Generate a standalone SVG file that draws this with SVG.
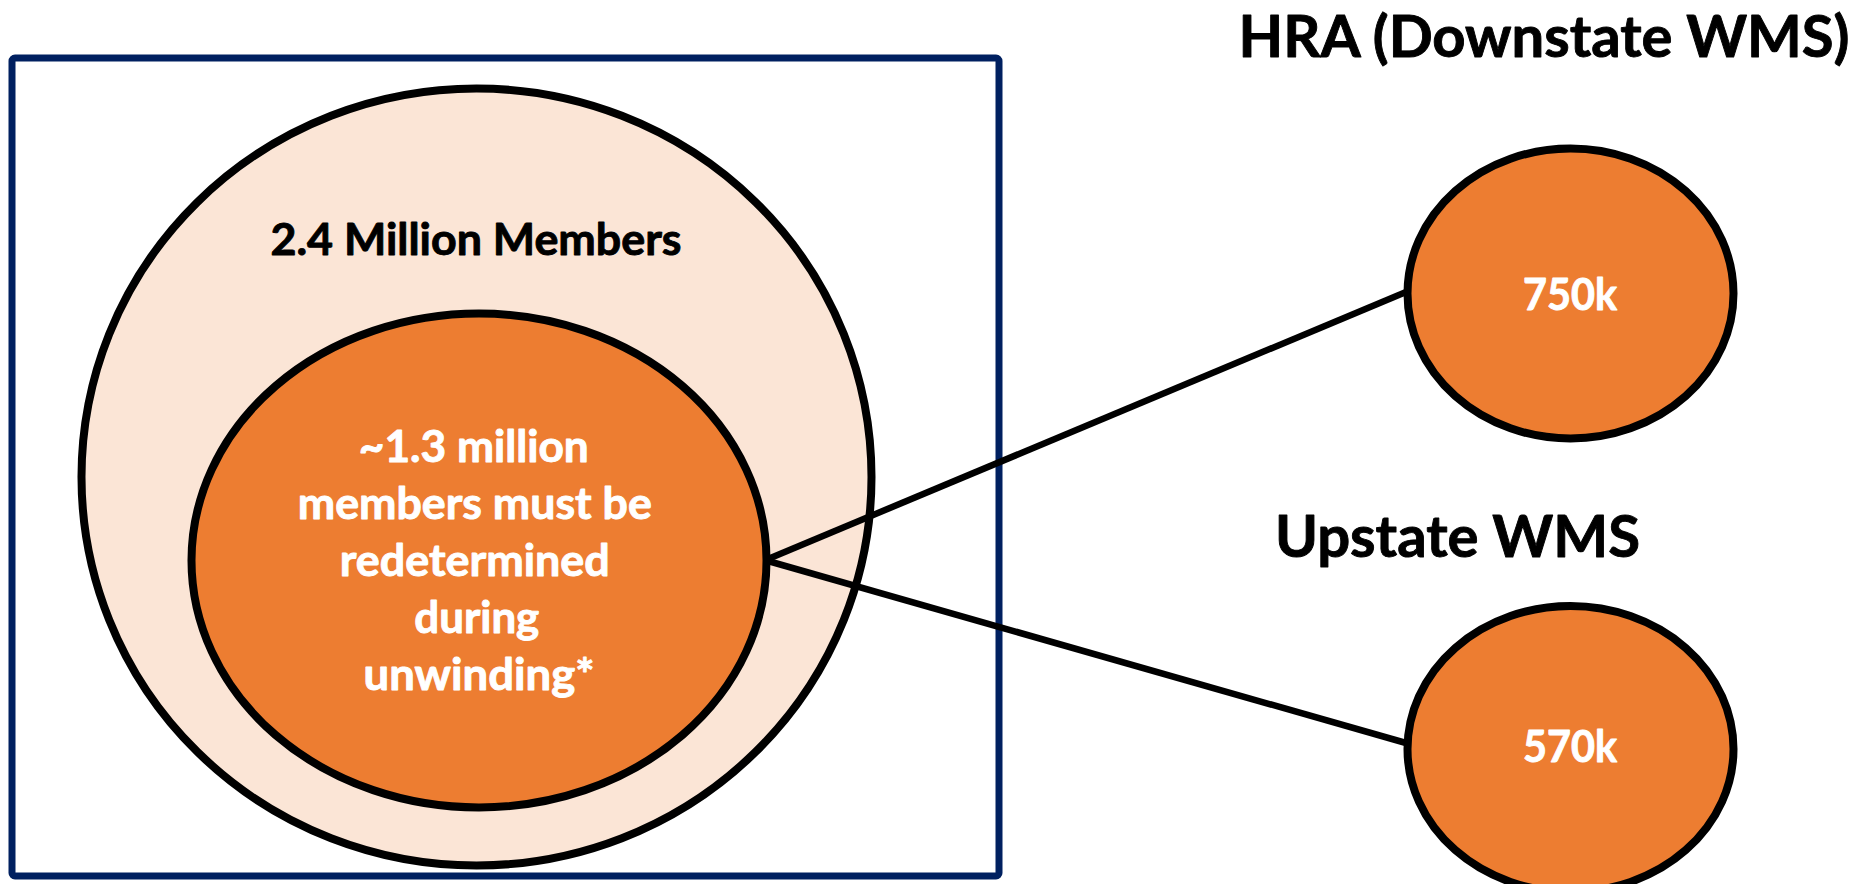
<svg xmlns="http://www.w3.org/2000/svg" width="1854" height="884" viewBox="0 0 1854 884">
  <style>
    .t { font-family: Lato, "Open Sans", "Liberation Sans", sans-serif; font-weight: bold; text-anchor: middle; stroke-width: 0.9; stroke-linejoin: round; }
    .blk { fill: #000000; stroke: #000000; }
    .wht { fill: #FFFFFF; stroke: #FFFFFF; }
    .orange { fill: #ED7D31; stroke: #000000; stroke-width: 8; }
    .peach { fill: #FBE5D6; stroke: #000000; stroke-width: 8; }
    .conn { stroke: #000000; stroke-width: 6.5; fill: none; }
  </style>
  <rect width="1854" height="884" fill="#FFFFFF"/>
  <g id="frame">
    <rect x="12" y="58" width="987" height="818" rx="3" ry="3" fill="#FFFFFF" stroke="#002060" stroke-width="7"/>
  </g>
  <g id="total-members">
    <ellipse class="peach" cx="476.5" cy="477" rx="395" ry="388.5"/>
    <text class="t blk" x="476" y="255" font-size="43" textLength="411" lengthAdjust="spacingAndGlyphs">2.4 Million Members</text>
  </g>
  <g id="connectors">
    <line class="conn" x1="768" y1="559" x2="1406" y2="292"/>
    <line class="conn" x1="768" y1="561" x2="1406" y2="743"/>
  </g>
  <g id="redetermined">
    <ellipse class="orange" cx="479" cy="560.5" rx="287.5" ry="247"/>
    <text class="t wht" font-size="43">
      <tspan x="479" y="462" textLength="230" lengthAdjust="spacingAndGlyphs">~1.3 million</tspan>
      <tspan x="480" y="519" textLength="354" lengthAdjust="spacingAndGlyphs">members must be</tspan>
      <tspan x="480" y="576" textLength="270" lengthAdjust="spacingAndGlyphs">redetermined</tspan>
      <tspan x="482" y="633" textLength="125" lengthAdjust="spacingAndGlyphs">during</tspan>
      <tspan x="479" y="690" textLength="231" lengthAdjust="spacingAndGlyphs">unwinding*</tspan>
    </text>
  </g>
  <g id="hra">
    <text class="t blk" x="1544" y="57" font-size="58" textLength="611" lengthAdjust="spacingAndGlyphs">HRA (Downstate WMS)</text>
    <ellipse class="orange" cx="1570.5" cy="293.5" rx="163" ry="145"/>
    <text class="t wht" x="1570" y="310" font-size="43" textLength="94" lengthAdjust="spacingAndGlyphs">750k</text>
  </g>
  <g id="upstate">
    <text class="t blk" x="1457.5" y="557" font-size="58" textLength="365" lengthAdjust="spacingAndGlyphs">Upstate WMS</text>
    <ellipse class="orange" cx="1570.5" cy="749" rx="163" ry="143"/>
    <text class="t wht" x="1570" y="762" font-size="43" textLength="94" lengthAdjust="spacingAndGlyphs">570k</text>
  </g>
</svg>
